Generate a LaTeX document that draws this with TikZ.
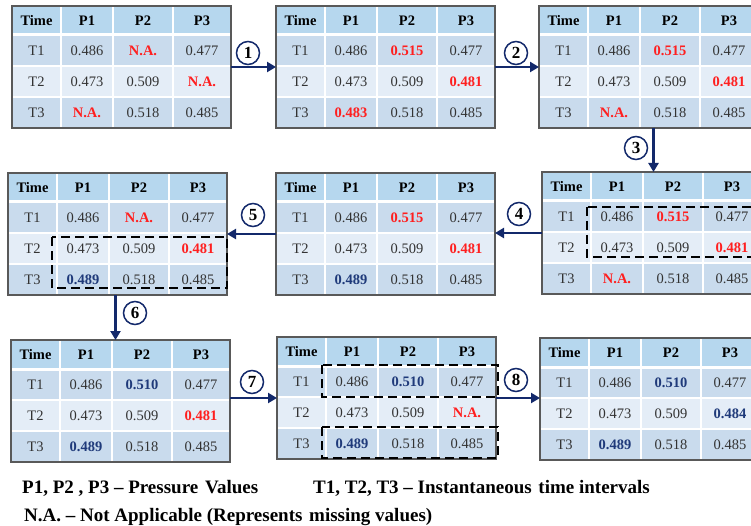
\documentclass[tikz,border=0pt]{standalone}
\usepackage{fontspec}
\setmainfont{Liberation Serif}
\usetikzlibrary{arrows.meta}

\definecolor{hdrblue}{HTML}{B6D7EE}
\definecolor{rowdark}{HTML}{C9DBED}
\definecolor{rowlight}{HTML}{E4EDF7}
\definecolor{framegray}{HTML}{595959}
\definecolor{valred}{HTML}{FF1F1F}
\definecolor{valblue}{HTML}{1F3A7A}
\definecolor{navy}{HTML}{13296B}
\definecolor{ink}{HTML}{333333}

% cell contents
\newcommand\na{\textcolor{valred}{\bfseries N.A.}}
\newcommand\rv[1]{\textcolor{valred}{\bfseries #1}}
\newcommand\bv[1]{\textcolor{valblue}{\bfseries #1}}

\tikzset{
  tblframe/.style={minimum width=219pt, minimum height=122pt, inner sep=0pt, outer sep=0pt},
  tblborder/.style={draw=framegray, line width=1.3pt},
  cell/.style={font=\fontsize{14.5}{16}\selectfont, text=ink, inner sep=0pt, anchor=center},
  headcell/.style={cell, text=black, font=\fontsize{14.5}{16}\selectfont\bfseries},
  flow/.style={draw=navy, line width=2.6pt, -{Triangle[length=9pt,width=10pt]}},
  stepnum/.style={circle, draw=navy, line width=1.5pt, fill=white, minimum size=23pt,
    inner sep=0pt, font=\fontsize{17}{18}\selectfont\bfseries},
  focus/.style={draw=black, line width=2.6pt, dash pattern=on 9pt off 5pt},
  legend/.style={anchor=base west, inner sep=0pt, font=\fontsize{19}{22}\selectfont\bfseries}
}

% empty table: header, time labels, grid
\newcommand\gridtable[2]{%
  \node[tblframe, anchor=north west] (#1) at (#2) {};
  \begin{scope}[shift={(#1.north west)}]
    \fill[hdrblue] (0,0) rectangle (219,29);
    \fill[rowdark] (0,29) rectangle (219,60);
    \fill[rowlight] (0,60) rectangle (219,91);
    \fill[rowdark] (0,91) rectangle (219,122);
    \draw[white, line width=3pt] (0,29) -- (219,29);
    \draw[white, line width=1.5pt] (0,60) -- (219,60) (0,91) -- (219,91);
    \draw[white, line width=1.5pt] (49,0) -- (49,122) (101,0) -- (101,122) (161,0) -- (161,122);
    \node[headcell] (#1-h0) at (24.5,14.5) {Time};
    \node[headcell] (#1-h1) at (75,14.5) {P1};
    \node[headcell] (#1-h2) at (131,14.5) {P2};
    \node[headcell] (#1-h3) at (190,14.5) {P3};
    \node[cell] (#1-t1) at (24.5,44.5) {T1};
    \node[cell] (#1-t2) at (24.5,75.5) {T2};
    \node[cell] (#1-t3) at (24.5,106.5) {T3};
  \end{scope}
  \draw[tblborder] (#1.north west) rectangle (#1.south east);
}

% one row of pressure values: table, row, P1, P2, P3
\newcommand\tablerow[5]{%
  \begin{scope}[shift={(#1.north west)}]
    \node[cell] (#1-#2-1) at (75,{13.5+31*#2}) {#3};
    \node[cell] (#1-#2-2) at (131,{13.5+31*#2}) {#4};
    \node[cell] (#1-#2-3) at (190,{13.5+31*#2}) {#5};
  \end{scope}
}

\begin{document}
\begin{tikzpicture}[x=1pt, y=-1pt]
  \fill[white] (0,0) rectangle (751,526);
  \useasboundingbox (0,0) rectangle (751,526);

  % first row of tables
  \gridtable{A}{12,6}
  \tablerow{A}{1}{0.486}{\na}{0.477}
  \tablerow{A}{2}{0.473}{0.509}{\na}
  \tablerow{A}{3}{\na}{0.518}{0.485}

  \gridtable{B}{276,6}
  \tablerow{B}{1}{0.486}{\rv{0.515}}{0.477}
  \tablerow{B}{2}{0.473}{0.509}{\rv{0.481}}
  \tablerow{B}{3}{\rv{0.483}}{0.518}{0.485}

  \gridtable{C}{539,6}
  \tablerow{C}{1}{0.486}{\rv{0.515}}{0.477}
  \tablerow{C}{2}{0.473}{0.509}{\rv{0.481}}
  \tablerow{C}{3}{\na}{0.518}{0.485}

  % second row of tables
  \gridtable{D}{8,173}
  \tablerow{D}{1}{0.486}{\na}{0.477}
  \tablerow{D}{2}{0.473}{0.509}{\rv{0.481}}
  \tablerow{D}{3}{\bv{0.489}}{0.518}{0.485}

  \gridtable{E}{276,173}
  \tablerow{E}{1}{0.486}{\rv{0.515}}{0.477}
  \tablerow{E}{2}{0.473}{0.509}{\rv{0.481}}
  \tablerow{E}{3}{\bv{0.489}}{0.518}{0.485}

  \gridtable{F}{542,172}
  \tablerow{F}{1}{0.486}{\rv{0.515}}{0.477}
  \tablerow{F}{2}{0.473}{0.509}{\rv{0.481}}
  \tablerow{F}{3}{\na}{0.518}{0.485}

  % third row of tables
  \gridtable{G}{11,340}
  \tablerow{G}{1}{0.486}{\bv{0.510}}{0.477}
  \tablerow{G}{2}{0.473}{0.509}{\rv{0.481}}
  \tablerow{G}{3}{\bv{0.489}}{0.518}{0.485}

  \gridtable{H}{277,337}
  \tablerow{H}{1}{0.486}{\bv{0.510}}{0.477}
  \tablerow{H}{2}{0.473}{0.509}{\na}
  \tablerow{H}{3}{\bv{0.489}}{0.518}{0.485}

  \gridtable{I}{540,338}
  \tablerow{I}{1}{0.486}{\bv{0.510}}{0.477}
  \tablerow{I}{2}{0.473}{0.509}{\bv{0.484}}
  \tablerow{I}{3}{\bv{0.489}}{0.518}{0.485}

  % rows used for each imputation
  \draw[focus] (587,207) rectangle (752,257);
  \draw[focus] (52,237) rectangle (227,288);
  \draw[focus] (322,365) rectangle (498,397);
  \draw[focus] (322,427) rectangle (498,458);

  % processing steps
  \draw[flow] (A.east) -- (B.west);
  \draw[flow] (B.east) -- (C.west);
  \draw[flow] ([xshift=5pt]C.south) -- ([xshift=5pt]C.south |- F.north);
  \draw[flow] (F.west) -- (F.west -| E.east);
  \draw[flow] (E.west) -- (E.west -| D.east);
  \draw[flow] ([xshift=-2pt]D.south) -- ([xshift=-2pt]D.south |- G.north);
  \draw[flow] (G.east |- H.west) -- (H.west);
  \draw[flow] (H.east) -- (H.east -| I.west);

  \node[stepnum] (s1) at (248,53) {1};
  \node[stepnum] (s2) at (516,53) {2};
  \node[stepnum] (s3) at (636,148) {3};
  \node[stepnum] (s4) at (519,214) {4};
  \node[stepnum] (s5) at (253,215) {5};
  \node[stepnum] (s6) at (135,313) {6};
  \node[stepnum] (s7) at (252,382) {7};
  \node[stepnum] (s8) at (516,380) {8};

  % legend
  \node[legend] (l1) at (22,493) {P1, P2 , P3 -- Pressure\hspace{2pt} Values};
  \node[legend] (l2) at (313,493) {T1, T2, T3 -- Instantaneous\hspace{2pt} time intervals};
  \node[legend] (l3) at (24,521) {N.A. -- Not Applicable (Represents\hspace{2pt} missing values)};
\end{tikzpicture}
\end{document}
